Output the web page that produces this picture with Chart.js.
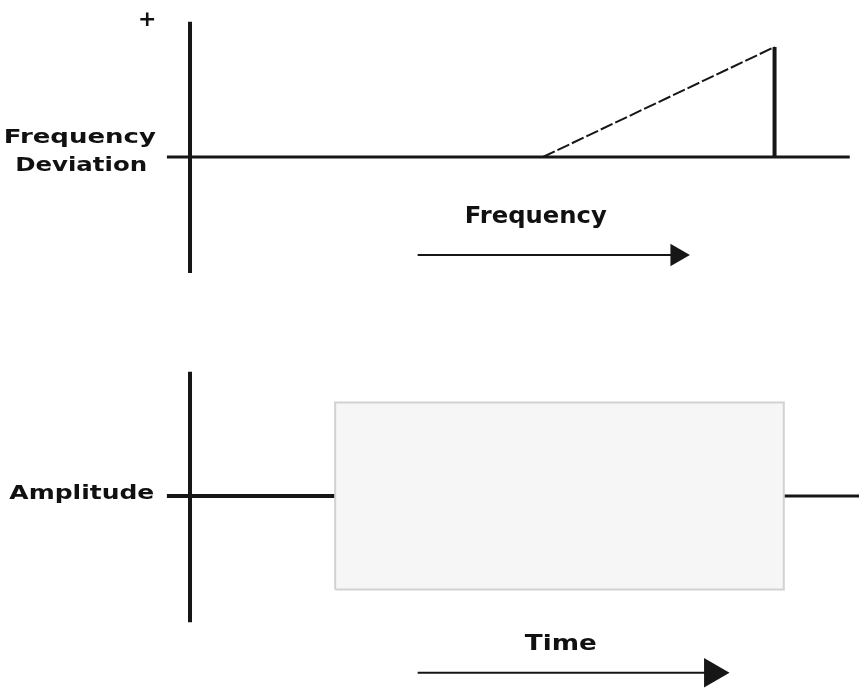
<!DOCTYPE html>
<html><head><meta charset="utf-8">
<script src="https://cdn.jsdelivr.net/npm/chart.js@4.4.0/dist/chart.umd.min.js"></script>
<style>
body{margin:0;background:#fff;}
canvas{display:block;}
</style></head><body>
<canvas id="top" width="859" height="345"></canvas>
<canvas id="bottom" width="859" height="345"></canvas>
<script>
// panel 1: frequency deviation vs frequency (x in frequency units, y in deviation units)
const freqBaseline = [{x:-3.5,y:0},{x:100,y:0}];
const devAxis = [{x:0,y:1.23},{x:0,y:-1.055}];
const ramp = [{x:53.5,y:0},{x:88.6,y:1}];
const rampDrop = [{x:88.6,y:1},{x:88.6,y:0}];
const freqArrow = [{x:34.5,y:-0.89},{x:73.8,y:-0.89}];

// panel 2: amplitude vs time
const ampAxis = [{x:0,y:1.33},{x:0,y:-1.35}];
const ampBefore = [{x:-3.5,y:0},{x:22,y:0}];
const ampAfter = [{x:90,y:0},{x:102,y:0}];
const pulse = [{x:22,y:-1},{x:22,y:1},{x:90,y:1},{x:90,y:-1},{x:22,y:-1}];
const timeArrow = [{x:34.5,y:-1.89},{x:79.2,y:-1.89}];

const INK = '#161616';

function seg(data, w, extra){
  return Object.assign({data, borderColor:INK, borderWidth:w, pointRadius:0, fill:false, tension:0}, extra||{});
}
function arrow(data, r){
  return seg(data, 2, {pointRadius:[0,r], pointStyle:'triangle', pointRotation:90,
    pointBackgroundColor:INK, pointBorderColor:INK, pointBorderWidth:0});
}

// text labels placed in data coords
function texts(items){
  return {
    id:'texts',
    afterDatasetsDraw(chart){
      const ctx = chart.ctx, xs = chart.scales.x, ys = chart.scales.y;
      for(const t of items){
        ctx.save();
        ctx.font = t.font;
        ctx.fillStyle = '#111';
        ctx.textAlign = 'center';
        ctx.textBaseline = 'middle';
        const w = ctx.measureText(t.text).width;
        const k = t.width ? t.width / w : 1;
        ctx.translate(xs.getPixelForValue(t.x), ys.getPixelForValue(t.y));
        ctx.scale(k,1);
        ctx.fillText(t.text,0,0);
        ctx.restore();
      }
    }
  };
}

function build(id, datasets, yMin, yMax, labels){
  return new Chart(document.getElementById(id), {
    type:'line',
    data:{datasets},
    options:{
      responsive:false, animation:false, devicePixelRatio:1,
      layout:{padding:0, autoPadding:false},
      plugins:{legend:{display:false}, tooltip:{enabled:false}},
      scales:{
        x:{type:'linear', display:false, min:-28.8, max:101.4},
        y:{type:'linear', display:false, min:yMin, max:yMax}
      }
    },
    plugins:[texts(labels)]
  });
}

build('top', [
  seg(ramp, 2, {borderDash:[13,3]}),
  seg(freqBaseline, 3),
  seg(rampDrop, 4),
  seg(devAxis, 4),
  arrow(freqArrow, 13)
], -1.709, 1.427, [
  {text:'+', x:-6.5, y:1.245, font:'bold 22px "DejaVu Sans"'},
  {text:'Frequency', x:-16.7, y:0.17, font:'bold 19px "DejaVu Sans"', width:152},
  {text:'Deviation', x:-16.5, y:-0.08, font:'bold 19px "DejaVu Sans"', width:132},
  {text:'Frequency', x:52.4, y:-0.55, font:'bold 23px "DejaVu Sans"', width:142}
]);

build('bottom', [
  seg(pulse, 2, {borderColor:'#d2d2d2', backgroundColor:'#f6f6f6', fill:'shape'}),
  seg(ampBefore, 4),
  seg(ampAfter, 3),
  seg(ampAxis, 4),
  arrow(timeArrow, 17)
], -2.075, 1.615, [
  {text:'Amplitude', x:-16.4, y:0.02, font:'bold 19px "DejaVu Sans"', width:145},
  {text:'Time', x:56.2, y:-1.59, font:'bold 21px "DejaVu Sans"', width:72}
]);
</script>
</body></html>
